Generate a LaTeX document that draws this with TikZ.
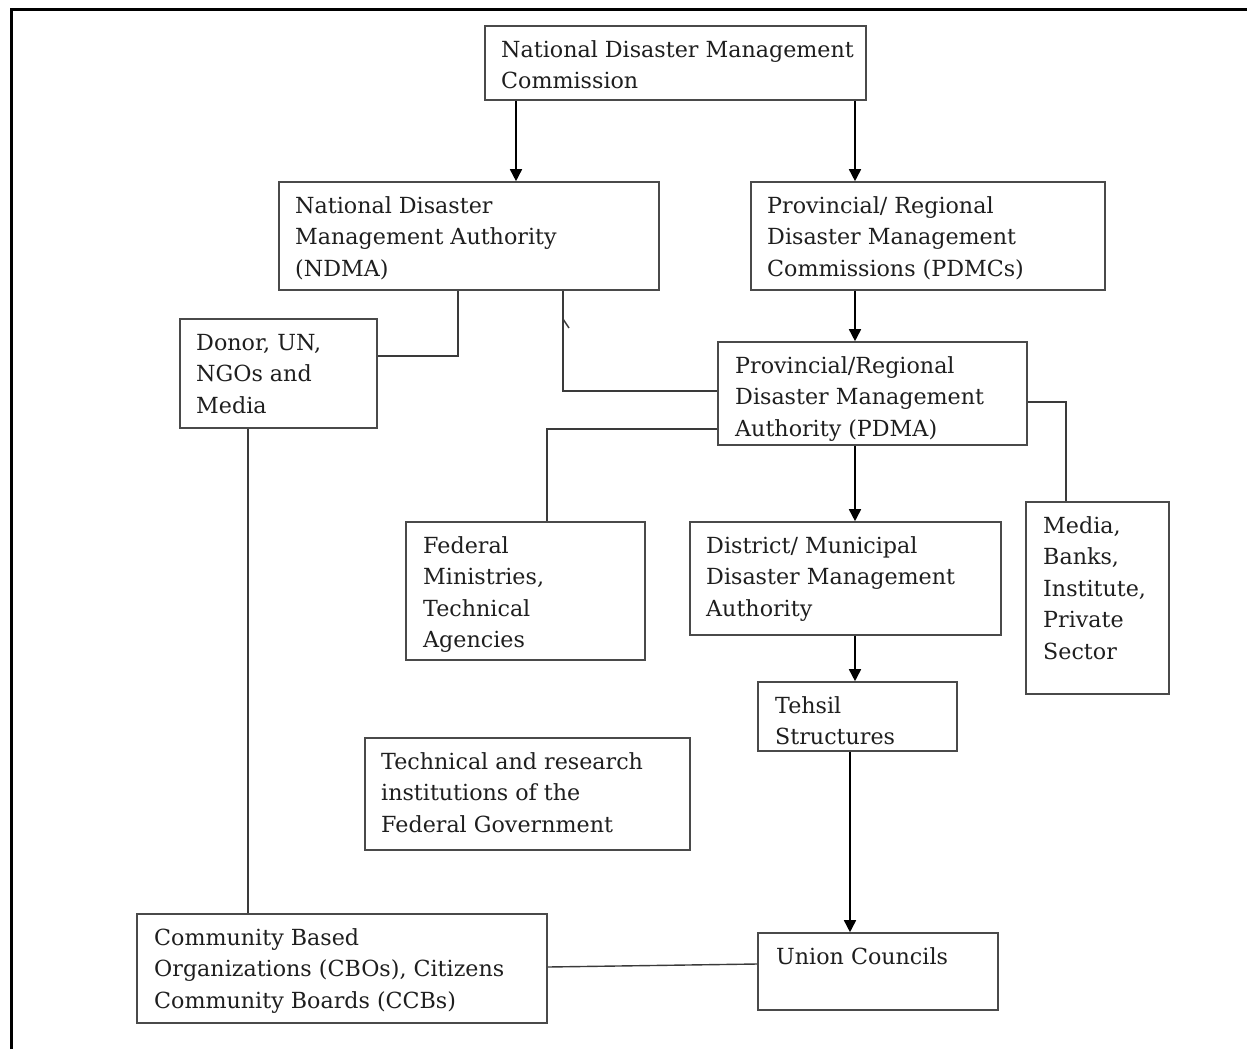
\documentclass[tikz,border=0pt]{standalone}
\usepackage{fontspec}
\setmainfont{DejaVu Serif}
\usetikzlibrary{arrows.meta,fit}
\definecolor{boxc}{HTML}{4A4A4A}
\definecolor{linec}{HTML}{3A3A3A}
\definecolor{txtc}{HTML}{1E1E1E}
\begin{document}
\begin{tikzpicture}[x=1pt,y=-1pt,
  box/.style={draw=boxc,line width=1.6pt,inner sep=0pt},
  txt/.style={anchor=north west,inner sep=0pt,align=left,text=txtc,font=\fontsize{22.2}{31.5}\selectfont},
  conn/.style={draw=linec,line width=1.4pt},
  arr/.style={draw=black,line width=1.6pt,-{Triangle[length=12pt,width=12pt]}}]
\useasboundingbox (0,0) rectangle (1247,1049);
\draw[line width=3pt] (11,1049) -- (11,10) -- (1247,10);

\node[box,fit={(485,26)(866,100)}] (ndmc) {};
\node[txt] (ndmct) at (501,35) {\strut National Disaster Management\\Commission};

\node[box,fit={(279,182)(659,290)}] (ndma) {};
\node[txt] (ndmat) at (295,191) {\strut National Disaster\\Management Authority\\(NDMA)};

\node[box,fit={(751,182)(1105,290)}] (pdmc) {};
\node[txt] (pdmct) at (767,191) {\strut Provincial/ Regional\\Disaster Management\\Commissions (PDMCs)};

\node[box,fit={(180,319)(377,428)}] (donor) {};
\node[txt] (donort) at (196,328) {\strut Donor, UN,\\NGOs and\\Media};

\node[box,fit={(718,342)(1027,445)}] (pdma) {};
\node[txt] (pdmat) at (735,351) {\strut Provincial/Regional\\Disaster Management\\Authority (PDMA)};

\node[box,fit={(406,522)(645,660)}] (fed) {};
\node[txt] (fedt) at (423,531) {\strut Federal\\Ministries,\\Technical\\Agencies};

\node[box,fit={(690,522)(1001,635)}] (dist) {};
\node[txt] (distt) at (706,531) {\strut District/ Municipal\\Disaster Management\\Authority};

\node[box,fit={(1026,502)(1169,694)}] (media) {};
\node[txt] (mediat) at (1043,511) {\strut Media,\\Banks,\\Institute,\\Private\\Sector};

\node[box,fit={(758,682)(957,751)}] (tehsil) {};
\node[txt] (tehsilt) at (775,691) {\strut Tehsil\\Structures};

\node[box,fit={(365,738)(690,850)}] (tech) {};
\node[txt] (techt) at (381,747) {\strut Technical and research\\institutions of the\\Federal Government};

\node[box,fit={(137,914)(547,1023)}] (cbo) {};
\node[txt] (cbot) at (154,923) {\strut Community Based\\Organizations (CBOs), Citizens\\Community Boards (CCBs)};

\node[box,fit={(758,933)(998,1010)}] (union) {};
\node[txt] (uniont) at (776,942) {\strut Union Councils};

\draw[arr] (516,0 |- ndmc.south) -- (516,0 |- ndma.north);
\draw[arr] (855,0 |- ndmc.south) -- (855,0 |- pdmc.north);
\draw[arr] (855,0 |- pdmc.south) -- (855,0 |- pdma.north);
\draw[arr] (855,0 |- pdma.south) -- (855,0 |- dist.north);
\draw[arr] (855,0 |- dist.south) -- (855,0 |- tehsil.north);
\draw[arr] (850,0 |- tehsil.south) -- (850,0 |- union.north);

\draw[conn] (458,0 |- ndma.south) |- (donor.east |- 0,356);
\draw[conn] (563,0 |- ndma.south) |- (pdma.west |- 0,391);
\coordinate (tick) at (563,319);
\draw[conn,line width=1.5pt] (tick) -- ++(6,9);
\draw[conn] (pdma.west |- 0,429) -| (547,0 |- fed.north);
\draw[conn] (pdma.east |- 0,402) -| (1066,0 |- media.north);
\draw[conn] (248,0 |- donor.south) -- (248,0 |- cbo.north);
\draw[conn] (cbo.east |- 0,967) -- (union.west |- 0,964);
\end{tikzpicture}
\end{document}
